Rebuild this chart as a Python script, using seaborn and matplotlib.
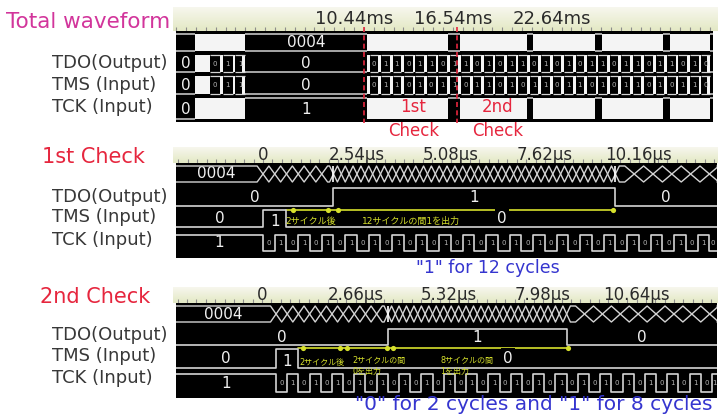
import numpy as np
import matplotlib
matplotlib.use("Agg")
import matplotlib.pyplot as plt
from matplotlib.colors import LinearSegmentedColormap
import seaborn as sns

sns.set_theme(style="white")
plt.rcParams["font.family"] = ["DejaVu Sans", "Noto Sans CJK JP"]

# ------------------------------------------------------------------ data
signal_names = ["TDO(Output)", "TMS (Input)", "TCK (Input)"]
panel_titles = ["Total waveform", "1st Check", "2nd Check"]

# Total waveform, time in ms
total_ticks = [10.44, 16.54, 22.64]
total_check_ms = [11.06, 16.80]
total_check_labels = ["1st", "2nd"]
total_check_label_ms = [14.1, 19.3]
total_bursts = [(0.63, 3.71), (11.24, 16.24), (16.98, 21.12),
                (21.49, 25.32), (25.75, 29.51), (29.95, 32.41)]
total_bus_values = ["", "0004", "", "", "", "", ""]
total_tck_values = [0, 1, 1, 1, 1, 1, 1]
total_io_spans = [(0.63, 3.71), (11.24, 32.41)]
total_io_values = [0, 0, 0]
total_tdo_bits = ["x011", "011011011010110101011011011010"]
total_tms_bits = ["x011", "011010110110101101101011010110"]

# TCK period of the zoomed captures, µs
tck_period = 0.635

# 1st check, time in µs
chk1_ticks = [0, 2.54, 5.08, 7.62, 10.16]
chk1_bus = "0004"
chk1_bus_rates = [(0.0, 2), (1.905, 3), (9.525, 1.25)]   # (from, changes per TCK cycle)
chk1_bus_cursor = [1.905, 9.525]
chk1_tdo_edges = [1.905, 9.525]
chk1_tms_edges = [0.0, 0.635]
chk1_tck_start = 0.0
chk1_marks = [0.81, 1.76, 2.03, 9.46]
chk1_notes = ["2サイクル後", "12サイクルの間1を出力"]
chk1_caption = '"1" for 12 cycles'

# 2nd check, time in µs
chk2_ticks = [0, 2.66, 5.32, 7.98, 10.64]
chk2_bus = "0004"
chk2_bus_rates = [(0.40, 2), (3.575, 3), (8.655, 1.25)]
chk2_bus_cursor = [3.575]
chk2_tdo_edges = [3.575, 8.655]
chk2_tms_edges = [0.40, 1.035]
chk2_tck_start = 0.40
chk2_marks = [1.16, 2.22, 2.41, 3.55, 3.72, 8.69]
chk2_notes = ["2サイクル後", "2サイクルの間\n0を出力", "8サイクルの間\n1を出力"]
chk2_caption = '"0" for 2 cycles and "1" for 8 cycles'

# ------------------------------------------------------------------ style
W, H = 718, 416
WAVE = "#d4d4d4"
VAL = "#f0f0f0"
DIG = "#b5b5b5"
FILL = "#f4f4f4"
YEL = "#d6e02c"
RED = "#e6263e"
PINK = "#d2359b"
BLUE = "#3535cf"
INK = "#383838"
RULER = LinearSegmentedColormap.from_list("ruler", ["#f7f7ee", "#e3e8c4"])

fig = plt.figure(figsize=(W / 100, H / 100), dpi=100)
fig.patch.set_facecolor("white")


def fbox(x0, y0, x1, y1):
    return [x0 / W, 1 - y1 / H, (x1 - x0) / W, (y1 - y0) / H]


def ftext(x, y, s, **kw):
    fig.text(x / W, 1 - y / H, s, **kw)


def clean(ax):
    ax.set_xticks([])
    ax.set_yticks([])
    ax.set_xlabel("")
    ax.set_ylabel("")
    for s in ax.spines.values():
        s.set_visible(False)


def add_ruler(y0, y1, px0, scale, ticks, unit, fs):
    ax = fig.add_axes(fbox(173, y0, 718, y1))
    lo, hi = (173 - px0) / scale, (718 - px0) / scale
    ax.imshow(np.linspace(0, 1, 64).reshape(-1, 1), cmap=RULER, aspect="auto",
              extent=(lo, hi, 1, 0), interpolation="bilinear")
    clean(ax)
    ax.set_xlim(lo, hi)
    ax.set_ylim(1, 0)
    step = (ticks[1] - ticks[0]) / 10
    first = ticks[0] - step * np.floor((ticks[0] - lo) / step)
    ax.set_xticks(np.arange(first, hi, step), minor=True)
    ax.tick_params(which="minor", axis="x", direction="in", length=3, width=0.8,
                   color="#8c8c8c", bottom=True)
    for t in ticks:
        ax.text(t, 0.5, "0" if t == 0 else f"{t:.2f}{unit}", ha="center",
                va="center", fontsize=fs, color="#2a2a2a")
    return ax


def add_wave(y0, y1, x1, px0, scale):
    ax = fig.add_axes(fbox(176, y0, x1, y1))
    ax.set_facecolor("black")
    return ax, (176 - px0) / scale, (x1 - px0) / scale


def finish(ax, lo, hi, y0, y1):
    clean(ax)
    ax.set_xlim(lo, hi)
    ax.set_ylim(y1, y0)


def val_text(ax, x, y, s, fs=11, color=VAL, **kw):
    ax.text(x, y, s, ha="center", va="center", fontsize=fs, color=color,
            zorder=3, **kw)


def hline(ax, a, b, y, color=WAVE, lw=1.1, z=4):
    ax.plot([a, b], [y, y], color=color, lw=lw, zorder=z, solid_capstyle="butt")


def bit_wave(ax, init, edges, lo, hi, y_hi, y_lo, y_txt, fs=11, box=False):
    times = [lo] + list(edges) + [hi]
    vals = [(init + i) % 2 for i in range(len(times) - 1)]
    ys = [y_hi if v else y_lo for v in vals]
    sns.lineplot(x=times, y=ys + ys[-1:], drawstyle="steps-post", color=WAVE,
                 lw=1.2, ax=ax, estimator=None, sort=False, zorder=4)
    sizes = fs if isinstance(fs, list) else [fs] * len(vals)
    for a, b, v, f in zip(times[:-1], times[1:], vals, sizes):
        kw = {}
        if box and (b - a) > 1.5:
            kw["bbox"] = dict(boxstyle="square,pad=0.15", fc="black", ec="none")
        yt = y_txt if (b - a) > 1.5 or f < 8 else y_txt + 3
        val_text(ax, (a + b) / 2, yt, str(v), fs=f,
                 color=VAL if f > 8 else DIG, **kw)


def bus_wave(ax, rates, lo, hi, y_top, y_bot, y_txt, value):
    bounds = [r[0] for r in rates[1:]] + [hi]
    trans = []
    for (a, n), b in zip(rates, bounds):
        trans.extend(np.arange(a, b - 1e-6, tck_period / n))
    trans = np.asarray(trans)
    gaps = np.diff(trans)
    half = np.minimum(np.r_[gaps[0], gaps], np.r_[gaps, gaps[-1]]) / 2
    ax_, ay, bx, by = [lo], [y_top], [lo], [y_bot]
    up = True
    for t, h in zip(trans, half):
        f, g = (y_top, y_bot) if up else (y_bot, y_top)
        ax_ += [t - h, t + h]
        ay += [f, g]
        bx += [t - h, t + h]
        by += [g, f]
        up = not up
    ax_.append(hi)
    ay.append(ay[-1])
    bx.append(hi)
    by.append(by[-1])
    ax.plot(ax_, ay, color=WAVE, lw=1.0, zorder=4)
    ax.plot(bx, by, color=WAVE, lw=1.0, zorder=4)
    val_text(ax, (lo + trans[0] - half[0]) / 2, y_txt, value)


def spans_gaps(spans, lo, hi):
    e = [lo] + [v for s in spans for v in s] + [hi]
    return list(zip(e[0::2], e[1::2]))


# ------------------------------------------------------------ total waveform
P1_X0, P1_S = 184.9, 16.2
add_ruler(7, 31, P1_X0, P1_S, total_ticks, "ms", 13)
ax1, lo1, hi1 = add_wave(31, 122, 713, P1_X0, P1_S)

# bus row
for (a, b), v in zip(spans_gaps(total_bursts, lo1, hi1), total_bus_values):
    hline(ax1, a, b, 34)
    hline(ax1, a, b, 51)
    if v:
        val_text(ax1, (a + b) / 2, 42.5, v)
for a, b in total_bursts:
    ax1.fill_between([a, b], 34, 51, color=FILL, lw=0, zorder=2)

# TCK row
for (a, b), v in zip(spans_gaps(total_bursts, lo1, hi1), total_tck_values):
    hline(ax1, a, b, 98 if v else 119)
    if b - a > 1.0:
        val_text(ax1, (a + b) / 2, 109, str(v))
for a, b in total_bursts:
    ax1.fill_between([a, b], 98, 119, color=FILL, lw=0, zorder=2)


def io_row(bits_list, y_hi, y_lo, y_txt):
    for (a, b), v in zip(spans_gaps(total_io_spans, lo1, hi1), total_io_values):
        hline(ax1, a, b, y_hi if v else y_lo)
        if b - a > 1.0:
            val_text(ax1, (a + b) / 2, y_txt, str(v))
    bar = 0.17
    for (a, b), bits in zip(total_io_spans, bits_list):
        w = (b - a) / len(bits)
        for i, c in enumerate(bits):
            c0 = a + i * w
            if c == "x":
                ax1.fill_between([c0, c0 + w], y_hi, y_lo, color=FILL, lw=0, zorder=2)
                continue
            ax1.fill_between([c0, c0 + bar], y_hi, y_lo, color=FILL, lw=0, zorder=2)
            hline(ax1, c0 + bar, c0 + w, y_hi, lw=0.9)
            hline(ax1, c0 + bar, c0 + w, y_lo, lw=0.9)
            val_text(ax1, c0 + (bar + w) / 2, y_txt, c, fs=5, color=DIG)
        ax1.fill_between([b - bar, b], y_hi, y_lo, color=FILL, lw=0, zorder=2)


io_row(total_tdo_bits, 55, 72, 64)
io_row(total_tms_bits, 76, 94, 85)

for t in total_check_ms:
    ax1.plot([t, t], [27, 123], color=RED, lw=1.2, ls=(0, (3, 2)),
             clip_on=False, zorder=6)
for t, s in zip(total_check_label_ms, total_check_labels):
    ax1.text(t, 107, s, color=RED, fontsize=12, ha="center", va="center", zorder=6)
    ax1.text(t, 131, "Check", color=RED, fontsize=12, ha="center", va="center",
             clip_on=False)
finish(ax1, lo1, hi1, 31, 122)


# ------------------------------------------------------------ check panels
def check_panel(ry, wy, px0, scale, ticks, bus, rates, cursor, tdo_e, tms_e,
                tck_s, marks, rows):
    add_ruler(ry[0], ry[1], px0, scale, ticks, "μs", 12)
    ax, lo, hi = add_wave(wy[0], wy[1], 717, px0, scale)
    (bt, bb, btx), (dh, dl, dtx), (mh, ml, mtx), (ch, cl, ctx), yy = rows
    bus_wave(ax, rates, lo, hi, bt, bb, btx, bus)
    ax.vlines(cursor, bt, bb, color="white", lw=1.2, zorder=5)
    bit_wave(ax, 0, tdo_e, lo, hi, dh, dl, dtx, box=True)
    bit_wave(ax, 0, tms_e, lo, hi, mh, ml, mtx, box=True)
    clk = np.arange(tck_s, hi, tck_period / 2)
    bit_wave(ax, 1, clk, lo, hi, ch, cl, ctx, fs=[11] + [5] * len(clk))
    ax.plot([tms_e[1], marks[-1]], [yy, yy], color=YEL, lw=1.2, zorder=2)
    sns.scatterplot(x=marks, y=[yy] * len(marks), color=YEL, s=14, ax=ax,
                    zorder=6, linewidth=0)
    finish(ax, lo, hi, wy[0], wy[1])
    return ax


P2_X0, P2_S = 263, 37.0
ax2 = check_panel((147, 163), (163, 258), P2_X0, P2_S, chk1_ticks, chk1_bus,
                  chk1_bus_rates, chk1_bus_cursor, chk1_tdo_edges, chk1_tms_edges,
                  chk1_tck_start, chk1_marks,
                  [(166, 182, 174), (188, 206, 197), (210, 227, 219),
                   (235, 251, 243), 210])
ax2.text((chk1_marks[0] + chk1_marks[1]) / 2, 222, chk1_notes[0], color=YEL,
         fontsize=6.5, ha="center", va="center", zorder=5)
ax2.text(chk1_marks[2] + 0.65, 221, chk1_notes[1], color=YEL, fontsize=6.5,
         ha="left", va="center", zorder=5)

P3_X0, P3_S = 262, 35.2
ax3 = check_panel((287, 303), (303, 398), P3_X0, P3_S, chk2_ticks, chk2_bus,
                  chk2_bus_rates, chk2_bus_cursor, chk2_tdo_edges, chk2_tms_edges,
                  chk2_tck_start, chk2_marks,
                  [(306, 322, 314), (329, 345, 337), (349, 368, 358),
                   (374, 392, 383), 348])
ax3.text((chk2_marks[0] + chk2_marks[1]) / 2, 362, chk2_notes[0], color=YEL,
         fontsize=5.8, ha="center", va="center", zorder=5)
ax3.text(chk2_marks[2] + 0.15, 366, chk2_notes[1], color=YEL, fontsize=5.8,
         ha="left", va="center", zorder=5, linespacing=1.15)
ax3.text(chk2_marks[4] + 1.34, 366, chk2_notes[2], color=YEL, fontsize=5.8,
         ha="left", va="center", zorder=5, linespacing=1.15)

# ------------------------------------------------------------ labels
ftext(6, 22, panel_titles[0], fontsize=15.5, color=PINK, ha="left", va="center")
ftext(42, 157, panel_titles[1], fontsize=15, color=RED, ha="left", va="center")
ftext(40, 297, panel_titles[2], fontsize=15, color=RED, ha="left", va="center")
for ys in ([63, 85, 107], [197, 217, 240], [335, 356, 378]):
    for y, name in zip(ys, signal_names):
        ftext(52, y, name, fontsize=13, color=INK, ha="left", va="center")
ftext(488, 268, chk1_caption, fontsize=12.5, color=BLUE, ha="center", va="center")
ftext(534, 405, chk2_caption, fontsize=14.5, color=BLUE, ha="center", va="center")

fig.savefig("out.png", dpi=100, facecolor="white")
